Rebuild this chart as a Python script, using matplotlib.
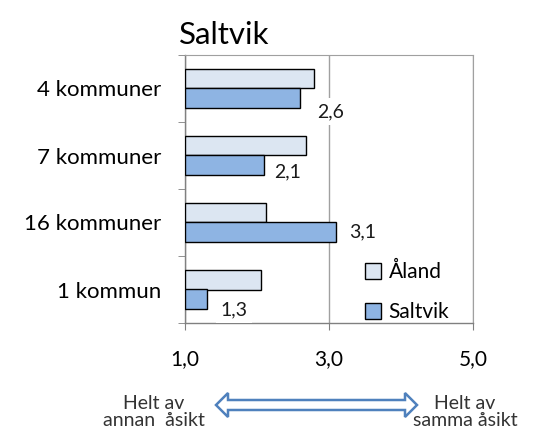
import numpy as np
import matplotlib
matplotlib.use("Agg")
from matplotlib import pyplot as plt
from matplotlib.patches import Polygon
from matplotlib.lines import Line2D

plt.rcParams["font.family"] = ["Lato", "DejaVu Sans"]

# data
kategorier = ["1 kommun", "16 kommuner", "7 kommuner", "4 kommuner"]
aland = [2.05, 2.13, 2.68, 2.79]
saltvik = [1.3, 3.1, 2.1, 2.6]
saltvik_etiketter = ["1,3", "3,1", "2,1", "2,6"]
x_ticks = [1.0, 3.0, 5.0]
x_tick_labels = ["1,0", "3,0", "5,0"]

# forskjutning av etiketter (punkter)
etikett_offset = [(10, -7.5), (9, 0), (7, -4.5), (12, -9.7)]

farg_aland = "#DCE6F2"
farg_saltvik = "#8EB4E3"

fig = plt.figure(figsize=(5.42, 4.36), dpi=100)
ax = fig.add_axes([185 / 542, 113 / 436, 288 / 542, 268 / 436])

y = np.arange(len(kategorier))
h = 0.29
ax.barh(y + h / 2, np.array(aland) - 1, left=1, height=h, color=farg_aland,
        edgecolor="black", linewidth=1.0, zorder=3)
ax.barh(y - h / 2, np.array(saltvik) - 1, left=1, height=h, color=farg_saltvik,
        edgecolor="black", linewidth=1.0, zorder=3)

for yi, v, txt, off in zip(y, saltvik, saltvik_etiketter, etikett_offset):
    ax.annotate(txt, (v, yi - h / 2), xytext=off, textcoords="offset points",
                ha="left", va="center", fontsize=14, color="#1a1a1a", zorder=4,
                bbox=dict(boxstyle="square,pad=0.25", fc="white", ec="none"))

ax.set_xlim(1, 5)
ax.set_ylim(-0.5, 3.5)
ax.set_xticks(x_ticks)
ax.set_xticklabels(x_tick_labels, fontsize=15)
ax.set_yticks(y)
ax.set_yticklabels(kategorier, fontsize=16)
ax.set_yticks(np.arange(-0.5, 3.6, 1), minor=True)
ax.tick_params(axis="y", which="major", length=0, pad=17)
ax.tick_params(axis="y", which="minor", length=5, color="#808080", direction="out")
ax.tick_params(axis="x", length=5, color="#808080", direction="out", pad=14)

ax.grid(axis="x", color="#A0A0A0", linewidth=1.0, zorder=0)
for s in ["top", "right"]:
    ax.spines[s].set_color("#A0A0A0")
for s in ["left", "bottom"]:
    ax.spines[s].set_color("#808080")
    ax.spines[s].set_linewidth(1.0)

ax.set_title("Saltvik", fontsize=22.5, loc="left", x=-0.02, pad=8)

handles = [
    Line2D([], [], marker="s", linestyle="none", markersize=12,
           markerfacecolor=farg_aland, markeredgecolor="black", label="Åland"),
    Line2D([], [], marker="s", linestyle="none", markersize=12,
           markerfacecolor=farg_saltvik, markeredgecolor="black", label="Saltvik"),
]
ax.legend(handles=handles, loc="center left", frameon=False, fontsize=15,
          handletextpad=0.25, labelspacing=0.95, borderpad=0,
          borderaxespad=0, handlelength=1.0,
          bbox_to_anchor=(0.617, 0.115))

# skalans ändpunkter under diagrammet
fig.text(154 / 542, 1 - 412 / 436, "Helt av\nannan  åsikt", ha="center",
         va="center", fontsize=14, color="#333333", linespacing=1.0)
fig.text(465 / 542, 1 - 412 / 436, "Helt av\nsamma åsikt", ha="center",
         va="center", fontsize=14, color="#333333", linespacing=1.0)

# dubbelpil
x0, x1, yc = 216, 417, 405
hl, hw, sw = 12, 12, 5
pts = [(x0, yc), (x0 + hl, yc - hw), (x0 + hl, yc - sw), (x1 - hl, yc - sw),
       (x1 - hl, yc - hw), (x1, yc), (x1 - hl, yc + hw), (x1 - hl, yc + sw),
       (x0 + hl, yc + sw), (x0 + hl, yc + hw)]
pts = [(px / 542, 1 - py / 436) for px, py in pts]
fig.patches.append(Polygon(pts, closed=True, transform=fig.transFigure,
                           facecolor="white", edgecolor="#4F81BD", linewidth=1.8))

fig.savefig("out.png", dpi=100)
